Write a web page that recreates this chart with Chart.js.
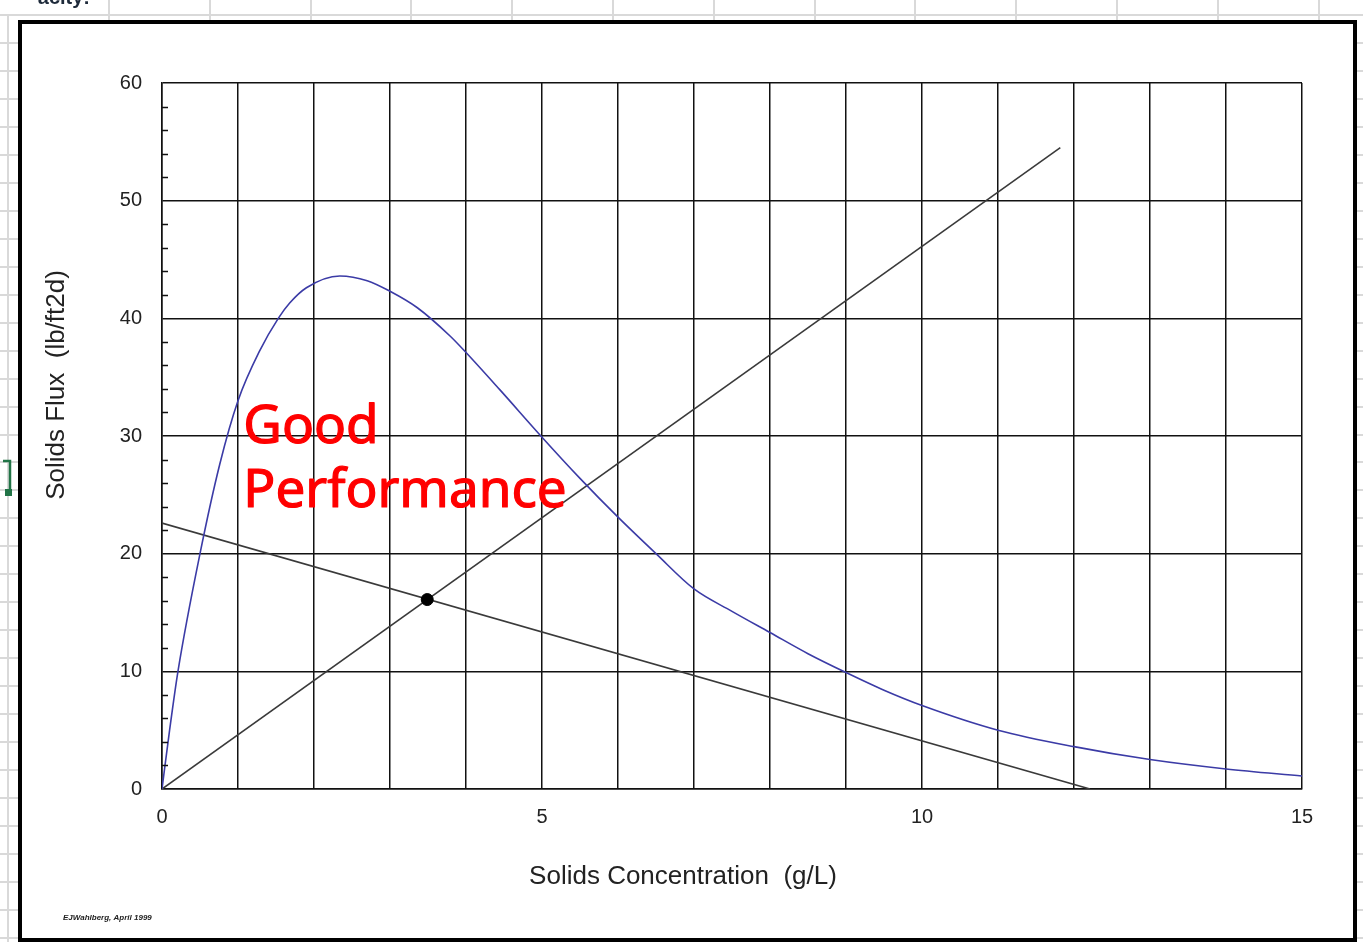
<!DOCTYPE html>
<html>
<head>
<meta charset="utf-8">
<script src="https://cdn.jsdelivr.net/npm/chart.js@4"></script>
<style>
  html, body { margin: 0; padding: 0; background: #fff; overflow: hidden; }
  #c { display: block; }
</style>
</head>
<body>
<canvas id="c" width="1363" height="942"></canvas>
<script>
// ---- Data ----
const fluxConc = [0, 0.1, 0.21, 0.5, 0.76, 1.0, 1.29, 1.53, 1.68, 1.9, 2.34, 2.7, 3.0, 3.36, 3.79, 4.0, 4.45, 5.0, 5.5, 6.0, 6.5, 7.0, 7.5, 8.0, 8.5, 9.0, 9.5, 10.0, 11.0, 12.0, 13.0, 14.0, 15.0];
const fluxVals = [0, 5.0, 10, 20, 27.6, 33, 37.3, 40.0, 41.3, 42.6, 43.6, 43.2, 42.3, 40.9, 38.5, 37.1, 33.9, 29.9, 26.4, 23.1, 20.0, 17.0, 15.1, 13.3, 11.5, 9.9, 8.4, 7.1, 5.0, 3.6, 2.5, 1.7, 1.1];

const overflowLineX = [0, 11.82];
const overflowLineY = [0, 54.5];

const underflowLineX = [0, 12.21];
const underflowLineY = [22.6, 0];

const statePointX = [3.49];
const statePointY = [16.1];

const xTickLabels = ['0', '5', '10', '15'];
const yTickValues = [0, 10, 20, 30, 40, 50, 60];

const xTitle = 'Solids Concentration  (g/L)';
const yTitle = 'Solids Flux  (lb/ft2d)';
const annotationLines = ['Good', 'Performance'];
const footerText = 'EJWahlberg, April 1999';

const toPts = (xs, ys) => xs.map((x, i) => ({ x: x, y: ys[i] }));

// ---- Background: spreadsheet grid + chart frame; overlays ----
const sheetPlugin = {
  id: 'sheet',
  beforeDraw(chart) {
    const ctx = chart.ctx;
    const W = chart.width, H = chart.height;
    ctx.save();
    ctx.fillStyle = '#ffffff';
    ctx.fillRect(0, 0, W, H);
    ctx.strokeStyle = '#d9d9d9';
    ctx.lineWidth = 2;
    ctx.beginPath();
    ctx.moveTo(8, 15); ctx.lineTo(8, H);
    for (let x = 109; x < W; x += 100.8) {
      ctx.moveTo(Math.round(x), 0); ctx.lineTo(Math.round(x), H);
    }
    for (let y = 15.3; y < H; y += 27.95) {
      ctx.moveTo(0, Math.round(y)); ctx.lineTo(W, Math.round(y));
    }
    ctx.stroke();
    // cut-off cell text at very top
    ctx.fillStyle = '#1e2a3a';
    ctx.font = 'bold 20px "Liberation Sans", Arial, sans-serif';
    ctx.textAlign = 'right';
    ctx.textBaseline = 'alphabetic';
    ctx.fillText('acity:', 90, 4);
    // green selection marker
    ctx.strokeStyle = '#217346';
    ctx.lineWidth = 2.5;
    ctx.beginPath();
    ctx.moveTo(3, 461); ctx.lineTo(10, 461); ctx.lineTo(10, 490);
    ctx.stroke();
    ctx.fillStyle = '#217346';
    ctx.fillRect(5, 489, 7, 7);
    // chart frame
    ctx.fillStyle = '#ffffff';
    ctx.fillRect(20, 22, 1335, 925);
    ctx.strokeStyle = '#000000';
    ctx.lineWidth = 4;
    ctx.strokeRect(20, 22, 1335, 918);
    ctx.restore();
  },
  afterDraw(chart) {
    const ctx = chart.ctx;
    const xs = chart.scales.x, ys = chart.scales.y;
    ctx.save();
    // minor ticks on the y axis (inside)
    ctx.strokeStyle = '#111';
    ctx.lineWidth = 1.5;
    ctx.beginPath();
    for (let v = 2; v < 60; v += 2) {
      if (v % 10 === 0) continue;
      const py = Math.round(ys.getPixelForValue(v)) + 0.5;
      ctx.moveTo(xs.left, py);
      ctx.lineTo(xs.left + 6, py);
    }
    ctx.stroke();
    // axis titles
    ctx.fillStyle = '#222';
    ctx.font = '26px "Liberation Sans", Arial, sans-serif';
    ctx.textAlign = 'center';
    ctx.textBaseline = 'middle';
    ctx.fillText(xTitle, 683, 877);
    ctx.save();
    ctx.translate(57, 385);
    ctx.rotate(-Math.PI / 2);
    ctx.fillText(yTitle, 0, 0);
    ctx.restore();
    // red annotation
    ctx.fillStyle = '#ff0000';
    ctx.strokeStyle = '#ff0000';
    ctx.lineWidth = 1.2;
    ctx.lineJoin = 'round';
    ctx.font = '53px "Noto Sans", "Open Sans", sans-serif';
    ctx.textAlign = 'left';
    ctx.textBaseline = 'alphabetic';
    const ax = xs.getPixelForValue(1.07);
    const y1 = ys.getPixelForValue(29.4), y2 = ys.getPixelForValue(24.0);
    ctx.fillText(annotationLines[0], ax, y1);
    ctx.strokeText(annotationLines[0], ax, y1);
    ctx.fillText(annotationLines[1], ax, y2);
    ctx.strokeText(annotationLines[1], ax, y2);
    // footer
    ctx.fillStyle = '#222';
    ctx.font = 'italic bold 8px "Liberation Sans", Arial, sans-serif';
    ctx.textBaseline = 'middle';
    ctx.fillText(footerText, 63, 918);
    ctx.restore();
  }
};

const gridColor = '#111111';

new Chart(document.getElementById('c'), {
  type: 'scatter',
  data: {
    datasets: [
      {
        label: 'Overflow',
        data: toPts(overflowLineX, overflowLineY),
        showLine: true,
        borderColor: '#3a3a3a',
        borderWidth: 1.6,
        pointRadius: 0,
        pointHoverRadius: 0,
        order: 2
      },
      {
        label: 'Underflow',
        data: toPts(underflowLineX, underflowLineY),
        showLine: true,
        borderColor: '#3a3a3a',
        borderWidth: 1.6,
        pointRadius: 0,
        pointHoverRadius: 0,
        order: 2
      },
      {
        label: 'Settling flux',
        data: toPts(fluxConc, fluxVals),
        showLine: true,
        borderColor: '#3b3ba6',
        borderWidth: 1.6,
        pointRadius: 0,
        pointHoverRadius: 0,
        cubicInterpolationMode: 'monotone',
        order: 1
      },
      {
        label: 'State point',
        data: toPts(statePointX, statePointY),
        showLine: false,
        backgroundColor: '#000000',
        borderColor: '#000000',
        pointRadius: 6,
        pointHoverRadius: 6,
        order: 0
      }
    ]
  },
  options: {
    responsive: false,
    devicePixelRatio: 1,
    animation: false,
    events: [],
    layout: { padding: { left: 38, top: 83, right: 61, bottom: 45 } },
    plugins: {
      legend: { display: false },
      tooltip: { enabled: false }
    },
    scales: {
      x: {
        type: 'linear',
        min: 0,
        max: 15,
        afterFit(s) { s.height = 108; },
        grid: { color: gridColor, lineWidth: 1.5, drawTicks: false },
        border: { color: gridColor, width: 1.5 },
        ticks: {
          stepSize: 1,
          autoSkip: false,
          maxRotation: 0,
          padding: 16,
          color: '#222',
          font: { family: '"Liberation Sans", Arial, sans-serif', size: 20 },
          callback: (v) => xTickLabels.includes(String(v)) ? String(v) : ''
        },
        title: { display: false }
      },
      y: {
        type: 'linear',
        min: 0,
        max: 60,
        afterFit(s) { s.width = 124; },
        grid: { color: gridColor, lineWidth: 1.5, drawTicks: false },
        border: { color: gridColor, width: 1.5 },
        afterBuildTicks(s) { s.ticks = yTickValues.map(v => ({ value: v })); },
        ticks: {
          padding: 20,
          color: '#222',
          font: { family: '"Liberation Sans", Arial, sans-serif', size: 20 }
        },
        title: { display: false }
      }
    }
  },
  plugins: [sheetPlugin]
});
</script>
</body>
</html>
